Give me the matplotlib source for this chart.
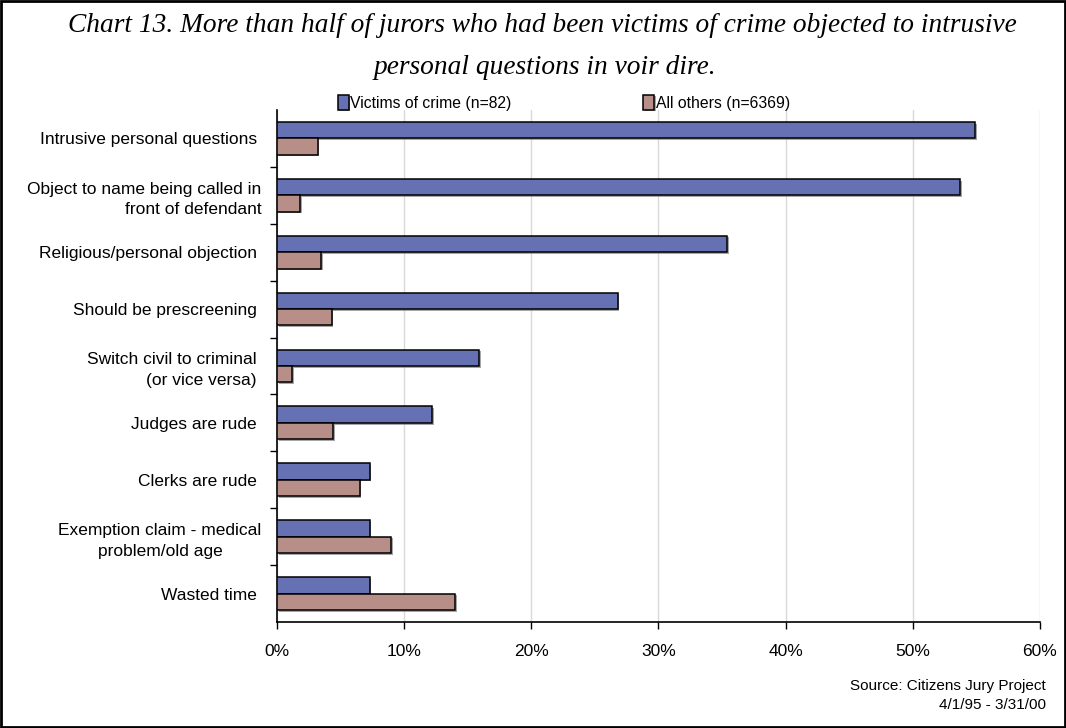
import numpy as np
import matplotlib.pyplot as plt
from matplotlib.patches import Rectangle
import matplotlib.patheffects as pe

# Reasons for objecting to voir dire, share of jurors (%)
reasons = ["Intrusive personal questions ",
           "Object to name being called in\nfront of defendant",
           "Religious/personal objection ",
           "Should be prescreening ",
           "Switch civil to criminal \n(or vice versa) ",
           "Judges are rude ",
           "Clerks are rude ",
           "Exemption claim - medical\nproblem/old age",
           "Wasted time "]
victims = [54.9, 53.7, 35.4, 26.8, 15.9, 12.2, 7.3, 7.3, 7.3]
others = [3.2, 1.8, 3.5, 4.3, 1.2, 4.4, 6.5, 9.0, 14.0]

plt.rcParams['font.family'] = ['Liberation Sans', 'DejaVu Sans']

fig = plt.figure(figsize=(10.66, 7.28), dpi=100)
ax = fig.add_axes([0.2598, 0.1456, 0.7158, 0.7034])

y = np.arange(len(reasons))
h = 0.288
shadow = [pe.SimplePatchShadow(offset=(1.2, -1.2), shadow_rgbFace='#808080', alpha=0.7), pe.Normal()]
b1 = ax.barh(y - h/2, victims, height=h, color='#6571B3', edgecolor='black', linewidth=1.1,
             label='Victims of crime (n=82)', zorder=3)
b2 = ax.barh(y + h/2, others, height=h, color='#B88E88', edgecolor='black', linewidth=1.1,
             label='All others (n=6369)', zorder=3)
for bar in list(b1) + list(b2):
    bar.set_path_effects(shadow)

ax.set_xlim(0, 60)
ax.set_ylim(len(reasons) - 0.5, -0.5)
ax.set_xticks(np.arange(0, 61, 10))
ax.set_xticklabels([f"{v}%" for v in range(0, 61, 10)], fontsize=12.5)
ax.tick_params(axis='x', direction='out', length=5, width=1, pad=11)

ax.set_yticks(y)
ax.set_yticklabels(reasons, fontsize=12.5)
ax.set_yticks(np.arange(0.5, len(reasons) - 1, 1), minor=True)
ax.tick_params(axis='y', which='major', length=0, pad=11)
ax.tick_params(axis='y', which='minor', direction='out', length=5, width=1)
for lbl in ax.get_yticklabels():
    lbl.set_multialignment('right')
    lbl.set_linespacing(1.45)
ax.get_yticklabels()[7].set_multialignment('center')

ax.grid(axis='x', color='#D9D9D9', linewidth=1, zorder=0)
ax.set_axisbelow(True)
for s in ['top', 'right']:
    ax.spines[s].set_visible(False)
for s in ['left', 'bottom']:
    ax.spines[s].set_linewidth(1.2)

leg = fig.legend(handles=[b1, b2], loc='center', bbox_to_anchor=(0.529, 0.859), ncol=2,
                 frameon=False, fontsize=11.3, handlelength=0.7, handleheight=1.1,
                 handletextpad=0.1, columnspacing=8.4, borderaxespad=0)

fig.text(0.509, 0.965, "Chart 13. More than half of jurors who had been victims of crime objected to intrusive",
         ha='center', va='center', fontsize=19.7, style='italic', family='Liberation Serif')
fig.text(0.511, 0.907, "personal questions in voir dire.",
         ha='center', va='center', fontsize=19.7, style='italic', family='Liberation Serif')

fig.text(0.981, 0.058, "Source: Citizens Jury Project", ha='right', va='center', fontsize=11)
fig.text(0.981, 0.032, "4/1/95 - 3/31/00", ha='right', va='center', fontsize=11)

fig.add_artist(Rectangle((0.001, 0.0015), 0.998, 0.997, transform=fig.transFigure,
                         fill=False, edgecolor='black', linewidth=2))

fig.savefig('out.png', dpi=100)
